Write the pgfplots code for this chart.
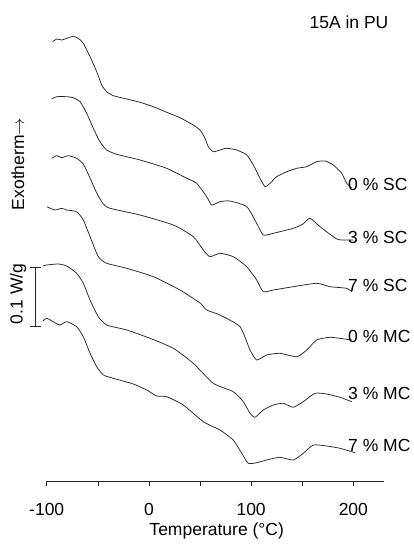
\documentclass[border=0pt]{standalone}
\usepackage{fontspec}
\setmainfont{Liberation Sans}
\usepackage{pgfplots}
\pgfplotsset{compat=1.18}

% DSC traces (heat flow, vertically offset), temperature in degC
\pgfplotstableread{
T y
-94.1 506.3
-90.2 509
-85.3 508
-80.4 509.7
-74.0 511.7
-69.1 509.7
-64.2 504.7
-57.6 491.3
-51.1 476.3
-46.2 463
-41.3 456.3
-34.8 452.3
-21.7 449
-8.7 445.7
4.3 441.3
17.4 435.7
30.4 430.3
43.4 423
50.0 418
54.9 409.7
58.1 401.3
63.0 396.3
69.5 398
76.1 399.7
85.9 398
95.7 393
102.1 383
108.7 369.7
113.6 361.3
118.5 364.7
125.0 371.3
134.8 376.3
144.6 379.7
154.4 381.3
164.1 386.3
172.3 387
180.4 383
188.6 374.7
193.5 364.7
198.4 360
}\scZero

\pgfplotstableread{
T y
-95.1 449
-90.2 451.3
-80.4 451.3
-74.0 450.3
-67.4 446.3
-60.9 434.7
-54.4 419.7
-47.9 406.3
-41.3 398
-31.5 393.7
-8.7 388
17.4 379.7
37.0 369.7
46.7 364.7
56.5 351.3
61.4 343
69.5 346.3
79.3 347
95.7 341.3
105.4 324.7
111.9 313
121.7 314.7
141.2 319.7
150.7 324
157.6 329.7
167.4 321.3
183.7 309
192.0 308
199.9 308
}\scThree

\pgfplotstableread{
T y
-95.1 389.7
-90.2 392.3
-85.3 390.3
-78.9 392.3
-70.7 389.7
-64.2 384
-57.6 370
-51.1 355
-44.6 344
-38.1 339.7
-8.7 333
23.9 323
43.4 311.3
53.2 298
59.7 291.3
69.5 294.7
82.5 291.3
95.7 281.3
105.4 268
111.9 256.3
121.7 258
141.2 261.3
164.1 264.7
177.2 261.3
193.5 259.7
198.4 256.3
}\scSeven

\pgfplotstableread{
T y
-100.0 341.3
-91.9 338
-85.3 339.7
-80.4 338
-70.7 336.3
-64.2 328
-57.6 311.3
-49.5 291.3
-41.3 284.7
-21.7 279.7
4.3 271.3
30.4 258
50.0 245
56.5 238
69.5 233
89.1 221.3
98.9 198
105.4 188
115.2 193
128.2 194.7
144.6 191.3
154.4 198
164.1 208
177.2 210.7
193.5 208.7
198.4 208
}\mcZero

\pgfplotstableread{
T y
-103.6 282
-100.0 283
-88.7 284
-80.4 282
-70.7 274.7
-64.2 264.7
-57.6 248
-49.5 231.3
-41.3 223
-21.7 218
1.1 209.7
23.9 199.7
43.4 184.7
63.0 164.7
82.5 156.3
92.3 146.3
98.9 134.7
103.8 130.7
111.9 138
121.7 143
131.5 144.7
141.2 140.7
151.0 146.3
162.5 154.7
173.9 154
186.9 150.7
198.4 146.3
}\mcThree

\pgfplotstableread{
T y
-103.6 227
-100.0 229.7
-91.9 225.3
-87.0 223
-80.4 226.3
-70.7 221.3
-64.2 211.3
-57.6 194.7
-51.1 181.3
-44.6 173
-34.8 169.7
-15.3 164
-2.2 158
7.6 152
17.4 151.3
33.6 143
53.2 126.3
69.5 118
82.5 108
90.8 94.7
97.2 84.7
105.4 85.3
115.2 88
128.2 90.7
141.2 88
151.0 94.7
160.8 103
173.9 102
186.9 99.7
201.6 95.3
}\mcSeven

\begin{document}
\begin{tikzpicture}
\begin{axis}[
  scale only axis,
  width=337.3pt, height=451pt,
  xmin=-100, xmax=230,
  ymin=67, ymax=518,
  axis x line*=bottom,
  axis y line=none,
  ytick=\empty,
  xtick={-100,0,100,200},
  xticklabels={-100,0,100,200},
  minor xtick={-50,50,150},
  tick align=outside,
  major tick length=5pt,
  minor tick length=5pt,
  every tick/.style={black!85, line width=0.6pt},
  axis line style={black!85, line width=0.6pt},
  xticklabel style={anchor=center, yshift=-23.5pt},
  font=\fontsize{17.5}{20}\selectfont,
  clip=false,
  trace/.style={black!85, line width=0.75pt, smooth, tension=0.35, no markers},
  bar/.style={black!85, line width=0.6pt, sharp plot, no markers},
]
\addplot[trace] table[x=T, y=y] {\scZero};
\addplot[trace] table[x=T, y=y] {\scThree};
\addplot[trace] table[x=T, y=y] {\scSeven};
\addplot[trace] table[x=T, y=y] {\mcZero};
\addplot[trace] table[x=T, y=y] {\mcThree};
\addplot[trace] table[x=T, y=y] {\mcSeven};

% 0.1 W/g scale bar
\addplot[bar] coordinates {(-111.4,222) (-111.4,281)};
\addplot[bar] coordinates {(-116.0,222) (-105.8,222)};
\addplot[bar] coordinates {(-116.0,281) (-105.8,281)};

% curve labels
\begin{scope}[every node/.style={anchor=west, inner sep=0pt}]
\node at (axis cs:194.8,364) {0 \% SC};
\node at (axis cs:194.8,311) {3 \% SC};
\node at (axis cs:194.8,263) {7 \% SC};
\node at (axis cs:194.8,211.3) {0 \% MC};
\node at (axis cs:194.8,155) {3 \% MC};
\node at (axis cs:194.8,103) {7 \% MC};
\end{scope}

\node at (axis cs:195.7,525.3) {15A in PU};
\node at (axis cs:66.3,17.5) {Temperature (°C)};
\node[rotate=90] at (axis cs:-128.1,384) {Exotherm$\rightarrow$};
\node[rotate=90] at (axis cs:-128.1,254) {0.1 W/g};

% page frame
\path (axis cs:-145.7,0) rectangle (axis cs:259.3,548);
\end{axis}
\end{tikzpicture}
\end{document}
